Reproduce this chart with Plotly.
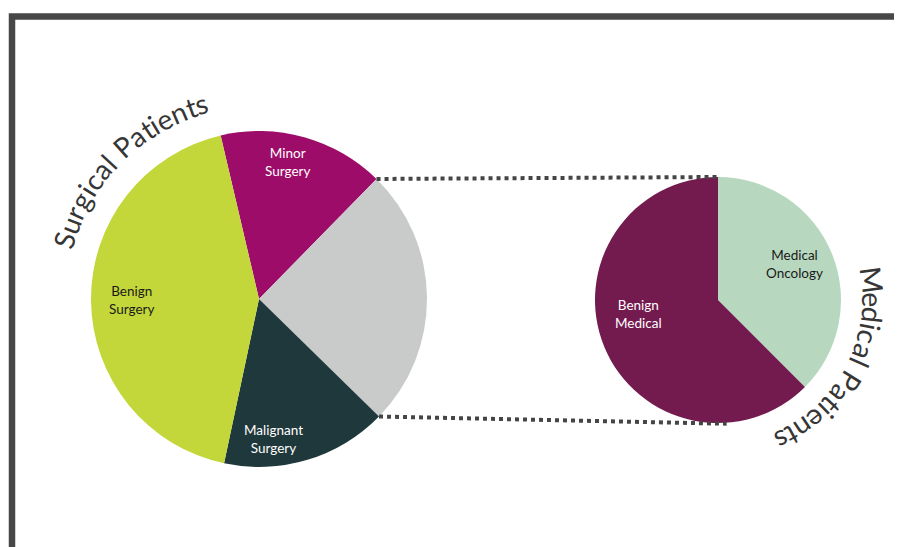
import numpy as np
import plotly.graph_objects as go

# ---- data ----
surg_labels = ["Minor<br>Surgery", "Medical Patients", "Malignant<br>Surgery", "Benign<br>Surgery"]
surg_values = [16, 25, 16, 43]
surg_colors = ["#9c0c68", "#c9cbca", "#1f383b", "#c4d73a"]
surg_text_colors = ["#ffffff", None, "#ffffff", "#1a1a1a"]

med_labels = ["Medical<br>Oncology", "Benign<br>Medical"]
med_values = [37.5, 62.5]
med_colors = ["#b7d8bf", "#731a4f"]
med_text_colors = ["#1a1a1a", "#ffffff"]

title_left = "Surgical Patients"
title_right = "Medical Patients"

# ---- layout geometry (pixels) ----
W, H = 902, 547
OFF = 8  # page body margin compensation
L_CX, L_CY, L_R = 259 - OFF, 299 - OFF, 168
R_CX, R_CY, R_R = 718 - OFF, 300 - OFF, 123
L_ROT = -13.2
R_ROT = 0
FONT = "Lato"

def dom(cx, cy, r):
    return dict(x=[(cx - r) / W, (cx + r) / W], y=[1 - (cy + r) / H, 1 - (cy - r) / H])

fig = go.Figure()
fig.add_trace(go.Pie(values=surg_values, labels=surg_labels, sort=False, direction="clockwise",
                     rotation=L_ROT, marker=dict(colors=surg_colors, line=dict(width=0)),
                     textinfo="none", hoverinfo="none", showlegend=False, domain=dom(L_CX, L_CY, L_R)))
fig.add_trace(go.Pie(values=med_values, labels=med_labels, sort=False, direction="clockwise",
                     rotation=R_ROT, marker=dict(colors=med_colors, line=dict(width=0)),
                     textinfo="none", hoverinfo="none", showlegend=False, domain=dom(R_CX, R_CY, R_R)))

def pt(cx, cy, r, ang):
    a = np.radians(ang)
    return cx + r * np.sin(a), cy - r * np.cos(a)

annotations = []
shapes = []

# slice labels positioned at slice mid-angles
def slice_labels(values, labels, tcolors, cx, cy, r, rot, rfracs, angoff):
    tot = sum(values)
    start = rot
    for v, lab, tc, rf, ao in zip(values, labels, tcolors, rfracs, angoff):
        span = 360 * v / tot
        mid = start + span / 2 + ao
        start += span
        if tc is None:
            continue
        x, y = pt(cx, cy, r * rf, mid)
        annotations.append(dict(x=x, y=y, xref="x", yref="y", text=lab, showarrow=False,
                                font=dict(family=FONT, size=13.5, color=tc), align="center"))

slice_labels(surg_values, surg_labels, surg_text_colors, L_CX, L_CY, L_R, L_ROT,
             [0.83, 0, 0.84, 0.76], [-4, 0, 11, 0])
slice_labels(med_values, med_labels, med_text_colors, R_CX, R_CY, R_R, R_ROT,
             [0.69, 0.66], [-2.5, 12.5])

# connector dotted lines from the grey slice edges
tot = sum(surg_values)
a1 = L_ROT + 360 * surg_values[0] / tot
a2 = a1 + 360 * surg_values[1] / tot
p1 = pt(L_CX, L_CY, L_R, a1)
p2 = pt(L_CX, L_CY, L_R, a2)
q1 = pt(R_CX, R_CY, R_R, R_ROT)
q2 = pt(R_CX, R_CY, R_R + 1, 176)
for a, b in [(p1, q1), (p2, q2)]:
    shapes.append(dict(type="line", xref="x", yref="y", x0=a[0], y0=a[1], x1=b[0], y1=b[1],
                       line=dict(color="#454545", width=4, dash="4px,4px")))

# frame
shapes.append(dict(type="path", xref="x", yref="y",
                   path=f"M {12 - OFF},{H} L {12 - OFF},{16.5 - OFF} L {W},{16.5 - OFF}",
                   line=dict(color="#474747", width=6.5)))

# curved titles
CW = {"S": .58, "u": .58, "r": .38, "g": .58, "i": .26, "c": .5, "a": .56, "l": .26, " ": .3,
      "P": .6, "t": .36, "e": .56, "n": .58, "s": .46, "M": .82, "d": .58}

def curved(text, cx, cy, r, center_ang, size, color):
    widths = [CW.get(ch, .55) * size for ch in text]
    total = sum(widths)
    s = -total / 2
    for ch, w in zip(text, widths):
        mid = s + w / 2
        s += w
        ang = center_ang + np.degrees(mid / r)
        x, y = pt(cx, cy, r, ang)
        if ch == " ":
            continue
        annotations.append(dict(x=x, y=y, xref="x", yref="y", text=ch, showarrow=False,
                                textangle=ang, xanchor="center", yanchor="middle",
                                font=dict(family=FONT, size=size, color=color)))

curved(title_left, L_CX, L_CY, 204, -45, 28, "#363636")
curved(title_right, R_CX, R_CY, 155, 118, 28.5, "#363636")

fig.update_layout(
    width=W, height=H, margin=dict(l=0, r=0, t=0, b=0),
    paper_bgcolor="white", plot_bgcolor="white",
    xaxis=dict(range=[0, W], visible=False, fixedrange=True, domain=[0, 1]),
    yaxis=dict(range=[H, 0], visible=False, fixedrange=True, domain=[0, 1]),
    annotations=annotations, shapes=shapes,
)
fig.write_html("out.html")
